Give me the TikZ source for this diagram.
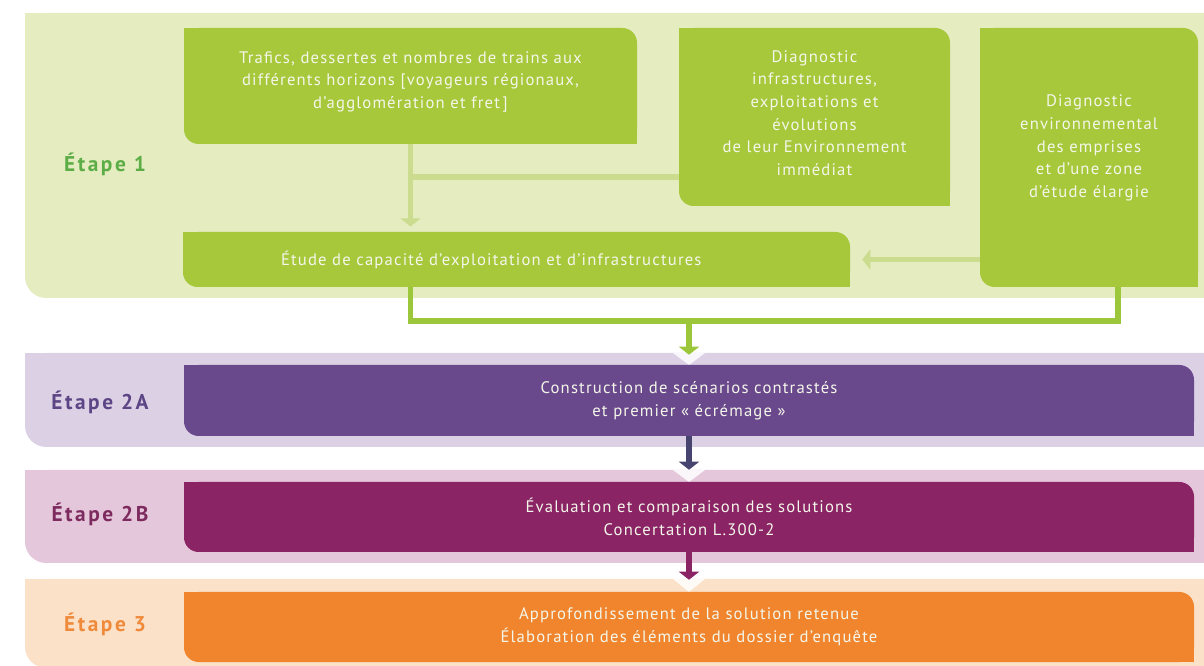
\documentclass[tikz,border=0pt]{standalone}
\usepackage{fontspec}
\setmainfont[LetterSpace=7]{PT Sans}
\newfontfamily\stepfont[LetterSpace=12]{PT Sans}
\usetikzlibrary{positioning, arrows.meta}

\definecolor{panelone}{HTML}{E4ECC0}
\definecolor{boxgreen}{HTML}{A7C83B}
\definecolor{linksoft}{HTML}{CBDC8F}
\definecolor{linkgreen}{HTML}{9DC73A}
\definecolor{labone}{HTML}{5CAD45}
\definecolor{paneltwoa}{HTML}{DCD0E5}
\definecolor{boxtwoa}{HTML}{69488C}
\definecolor{labtwoa}{HTML}{5D4585}
\definecolor{linktwoa}{HTML}{474470}
\definecolor{paneltwob}{HTML}{E5C7DB}
\definecolor{boxtwob}{HTML}{8A2465}
\definecolor{labtwob}{HTML}{7D2B5E}
\definecolor{panelthree}{HTML}{FCE1C9}
\definecolor{boxthree}{HTML}{F0852D}
\definecolor{labthree}{HTML}{EF8A3A}
\definecolor{boxtext}{HTML}{F4F6EA}

\tikzset{
  leaf/.style={fill=#1, rounded corners=11pt, text=boxtext, align=center, inner sep=0pt,
               font=\fontsize{12.5pt}{17pt}\selectfont},
  boxsize/.style 2 args={minimum width=#1*0.75pt, minimum height=#2*0.75pt},
  steplabel/.style={font=\stepfont\fontsize{16pt}{19pt}\selectfont\bfseries, anchor=base, inner sep=0pt},
  softlink/.style={draw=linksoft, line width=4pt},
  mainlink/.style={draw=linkgreen, line width=4pt},
  tip/.style={-{Triangle[width=15pt, length=6pt]}},
}

\begin{document}
\begin{tikzpicture}[x=0.75pt, y=-0.75pt]
    \useasboundingbox (0,0) rectangle (1204,666);
    \clip (0,0) rectangle (1204,666);
    \fill[white] (0,0) rectangle (1204,666);

    % Panels
    \fill[panelone, rounded corners=16pt] (25,13) rectangle (1240,298);
    \fill[panelone] (25,13) rectangle (70,60);
    \fill[paneltwoa, rounded corners=16pt] (25,353) rectangle (1240,447);
    \fill[paneltwoa] (25,353) rectangle (70,390);
    \fill[paneltwob, rounded corners=16pt] (25,470) rectangle (1240,563);
    \fill[paneltwob] (25,470) rectangle (70,510);
    \fill[panelthree, rounded corners=16pt] (25,579) rectangle (1240,668);
    \fill[panelthree] (25,579) rectangle (70,620);

    % Notches under the arrows
    \fill[white, opacity=.85] (673,353) -- (705,353) -- (689,365) -- cycle;
    \fill[white, opacity=.85] (673,470) -- (705,470) -- (689,482) -- cycle;
    \fill[white, opacity=.85] (673,579) -- (705,579) -- (689,592) -- cycle;

    % Stage labels
    \node[steplabel, text=labone] (stepone) at (105,172) {Étape 1};
    \node[steplabel, text=labtwoa] (steptwoa) at (100,410) {Étape 2A};
    \node[steplabel, text=labtwob] (steptwob) at (100,522) {Étape 2B};
    \node[steplabel, text=labthree] (stepthree) at (105,632) {Étape 3};

    % Stage 1 boxes
    \node[leaf=boxgreen, boxsize={453}{116}] (trafics) at (410.5,86)
        {Trafics, dessertes et nombres de trains aux\\différents horizons [voyageurs régionaux,\\d’agglomération et fret\,]\\[-8pt]\mbox{}};
    \node[leaf=boxgreen, boxsize={271}{178}] (diaginfra) at (814.5,117)
        {Diagnostic\\infrastructures,\\exploitations et\\évolutions\\de leur Environnement\\immédiat\\[-11pt]\mbox{}};
    \node[leaf=boxgreen, boxsize={218}{259}] (diagenv) at (1089,157.5)
        {Diagnostic\\environnemental\\des emprises\\et d’une zone\\d’étude élargie\\\mbox{}};
    \node[leaf=boxgreen, boxsize={667}{55}, align=left, text width=353.25pt, inner xsep=73.5pt] (etude) at (516.5,259.5)
        {Étude de capacité d’exploitation et d’infrastructures};

    % Stage 2 and 3 boxes
    \node[leaf=boxtwoa, boxsize={1010}{71}] (scenarios) at (689,400.5)
        {Construction de scénarios contrastés\\et premier « écrémage »};
    \node[leaf=boxtwob, boxsize={1010}{70}] (evaluation) at (689,517)
        {Évaluation et comparaison des solutions\\Concertation L.300-2};
    \node[leaf=boxthree, boxsize={1010}{70}] (approf) at (689,627)
        {Approfondissement de la solution retenue\\Élaboration des éléments du dossier d’enquête};

    % Square corners
    \foreach \n/\c in {trafics/boxgreen, diaginfra/boxgreen, diagenv/boxgreen, etude/boxgreen,
                       scenarios/boxtwoa, evaluation/boxtwob, approf/boxthree} {
        \fill[\c] (\n.north west) rectangle ++(12pt,-12pt);
        \fill[\c] (\n.south east) rectangle ++(-12pt,12pt);
    }

    % Links inside stage 1
    \coordinate (fork) at (410.5,177);
    \draw[softlink, tip, shorten >=4pt] (trafics.south) -- (trafics.south |- etude.north);
    \draw[softlink] (fork) -- (fork -| diaginfra.west);
    \draw[softlink, tip, shorten >=9pt] (diagenv.west |- etude.east) -- (etude.east);

    % Links between stages
    \coordinate (merge) at (689,321);
    \coordinate (envfoot) at (1118,287);
    \draw[mainlink] (trafics.south |- etude.south) |- (merge) -| (envfoot);
    \draw[mainlink, tip, shorten >=7.5pt] (merge) -- (scenarios.north);
    \draw[draw=linktwoa, line width=4pt, tip, shorten >=9pt] (scenarios.south) -- (evaluation.north);
    \draw[draw=boxtwob, line width=4pt, tip, shorten >=9pt] (evaluation.south) -- (approf.north);
\end{tikzpicture}
\end{document}
